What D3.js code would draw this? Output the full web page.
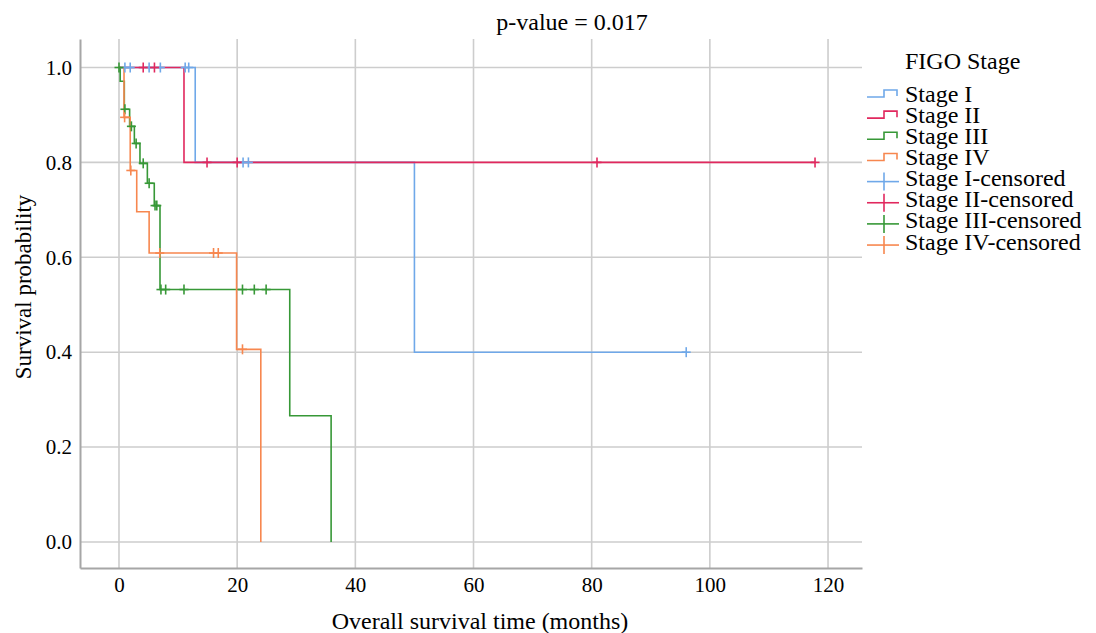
<!DOCTYPE html>
<html>
<head>
<meta charset="utf-8">
<script src="https://cdn.jsdelivr.net/npm/d3@7"></script>
<style>
  body { margin: 0; background: #ffffff; }
  svg text { font-family: "Liberation Serif", "Times New Roman", serif; fill: #000; }
</style>
</head>
<body>
<svg id="chart" width="1096" height="633"></svg>
<script>
// Kaplan–Meier overall survival by FIGO stage
const stages = ["Stage I", "Stage II", "Stage III", "Stage IV"];
const stageColors = ["#6fa8e9", "#e1285e", "#379837", "#f7874f"];

// step times (months) and survival probability from each time on
const stage1Times = [0, 12.9, 50.0];
const stage1Surv  = [1.0, 0.8, 0.4];
const stage1End = 96.0;
const stage1Censored = [1.0, 1.9, 5.1, 7.0, 11.2, 11.8, 21.0, 21.9, 96.0];

const stage2Times = [0, 11.0];
const stage2Surv  = [1.0, 0.8];
const stage2End = 117.8;
const stage2Censored = [4.1, 6.0, 14.9, 20.0, 80.9, 117.8];

const stage3Times = [0, 0.2, 0.9, 1.8, 2.6, 3.55, 4.8, 5.97, 6.94, 28.9, 35.9];
const stage3Surv  = [1.0, 0.971, 0.912, 0.876, 0.840, 0.798, 0.756, 0.709, 0.532, 0.266, 0.0];
const stage3End = 35.9;
const stage3Censored = [0, 1.0, 2.1, 2.9, 4.1, 5.1, 6.1, 6.4, 7.1, 7.9, 11.0, 20.9, 22.9, 24.9];

const stage4Times = [0, 0.85, 1.9, 3.0, 5.1, 19.9, 24.0];
const stage4Surv  = [1.0, 0.895, 0.783, 0.696, 0.609, 0.406, 0.0];
const stage4End = 24.0;
const stage4Censored = [0.95, 2.0, 6.9, 16.0, 16.8, 20.9];

const xTicks = [0, 20, 40, 60, 80, 100, 120];
const yTicks = [0.0, 0.2, 0.4, 0.6, 0.8, 1.0];
const pValue = "0.017";

const curves = [
  { name: stages[0], times: stage1Times, surv: stage1Surv, end: stage1End, cens: stage1Censored },
  { name: stages[1], times: stage2Times, surv: stage2Surv, end: stage2End, cens: stage2Censored },
  { name: stages[2], times: stage3Times, surv: stage3Surv, end: stage3End, cens: stage3Censored },
  { name: stages[3], times: stage4Times, surv: stage4Surv, end: stage4End, cens: stage4Censored }
];

const serif = "'Liberation Serif', 'Times New Roman', serif";
const svg = d3.select("#chart");
const plot = { left: 80, right: 862, top: 39, bottom: 568 };

const x = d3.scaleLinear().domain([-6.6, 125.75]).range([plot.left, plot.right]);
const y = d3.scaleLinear().domain([-0.0549, 1.0601]).range([plot.bottom, plot.top]);

// gridlines
const grid = svg.append("g").attr("stroke", "#cdcdcd").attr("stroke-width", 1.6);
grid.selectAll(".gx").data(xTicks).join("line")
  .attr("x1", d => x(d)).attr("x2", d => x(d))
  .attr("y1", plot.top).attr("y2", plot.bottom);
grid.selectAll(".gy").data(yTicks).join("line")
  .attr("x1", plot.left).attr("x2", plot.right)
  .attr("y1", d => y(d)).attr("y2", d => y(d));

// axes
const xAxis = svg.append("g")
  .attr("transform", `translate(0,${plot.bottom})`)
  .call(d3.axisBottom(x).tickValues(xTicks).tickSize(0).tickPadding(9).tickFormat(d3.format("d")));
const yAxis = svg.append("g")
  .attr("transform", `translate(${plot.left},0)`)
  .call(d3.axisLeft(y).tickValues(yTicks).tickSize(0).tickPadding(8).tickFormat(d3.format(".1f")));
[xAxis, yAxis].forEach(a => {
  a.attr("font-family", null).attr("font-size", null);
  a.select(".domain").attr("stroke", "#a6a6a6").attr("stroke-width", 2);
  a.selectAll("text").style("font-family", serif).style("font-size", "21px").attr("fill", "#000");
});

// survival step curves
const line = d3.line().x(d => x(d[0])).y(d => y(d[1])).curve(d3.curveStepAfter);
const survAt = (c, t) => c.surv[Math.max(0, d3.bisectRight(c.times, t) - 1)];

const curveG = svg.append("g");
curves.forEach((c, i) => {
  const pts = c.times.map((t, k) => [t, c.surv[k]]);
  pts.push([c.end, c.surv[c.surv.length - 1]]);
  curveG.append("path")
    .attr("d", line(pts))
    .attr("fill", "none")
    .attr("stroke", stageColors[i])
    .attr("stroke-width", 1.6);
});
curves.forEach((c, i) => {
  const g = curveG.append("g").attr("stroke", stageColors[i]).attr("stroke-width", 1.6);
  c.cens.forEach(t => {
    const cx = x(t), cy = y(survAt(c, t));
    g.append("line").attr("x1", cx).attr("x2", cx).attr("y1", cy - 5).attr("y2", cy + 5);
    g.append("line").attr("x1", cx - 4.5).attr("x2", cx + 4.5).attr("y1", cy).attr("y2", cy);
  });
});

// titles
svg.append("text").attr("x", 572).attr("y", 30).attr("text-anchor", "middle")
  .style("font-size", "24px").text(`p-value = ${pValue}`);
svg.append("text").attr("x", 480).attr("y", 629).attr("text-anchor", "middle")
  .style("font-size", "24px").text("Overall survival time (months)");
svg.append("text").attr("transform", "translate(31,287) rotate(-90)").attr("text-anchor", "middle")
  .style("font-size", "23px").text("Survival probability");

// legend
const legend = svg.append("g");
const lx0 = 867, lx1 = 899, lmid = 884, textX = 905;
legend.append("text").attr("x", textX).attr("y", 68.5).style("font-size", "24px").text("FIGO Stage");
const entries = stages.map((s, i) => ({ label: s, color: stageColors[i], censored: false }))
  .concat(stages.map((s, i) => ({ label: s + "-censored", color: stageColors[i], censored: true })));
entries.forEach((e, k) => {
  const base = 101.5 + k * 21.15;
  const ly = base - 4.5;
  if (!e.censored) {
    legend.append("path")
      .attr("d", `M${lx0},${ly}H${lmid}V${ly - 7}H${lx1 - 2}V${ly - 1}`)
      .attr("fill", "none").attr("stroke", e.color).attr("stroke-width", 1.6);
  } else {
    legend.append("line").attr("x1", lx0).attr("x2", lx1).attr("y1", ly).attr("y2", ly)
      .attr("stroke", e.color).attr("stroke-width", 1.6);
    legend.append("line").attr("x1", lmid).attr("x2", lmid).attr("y1", ly - 9).attr("y2", ly + 9)
      .attr("stroke", e.color).attr("stroke-width", 1.6);
  }
  legend.append("text").attr("x", textX).attr("y", base).style("font-size", "24px").text(e.label);
});
</script>
</body>
</html>
